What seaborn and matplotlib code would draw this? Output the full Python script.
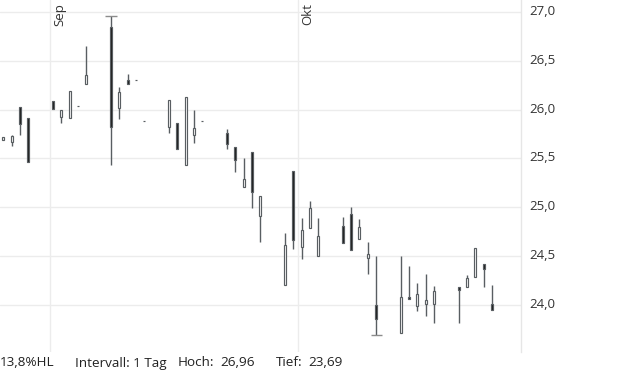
import numpy as np
import pandas as pd
import matplotlib
matplotlib.use("Agg")
import matplotlib.pyplot as plt
import matplotlib.transforms as mtrans
import seaborn as sns

dates = ["2025-08-26", "2025-08-27", "2025-08-28", "2025-08-29",
         "2025-09-01", "2025-09-02", "2025-09-03", "2025-09-04", "2025-09-05",
         "2025-09-08", "2025-09-09", "2025-09-10", "2025-09-11", "2025-09-12",
         "2025-09-15", "2025-09-16", "2025-09-17", "2025-09-18", "2025-09-19",
         "2025-09-22", "2025-09-23", "2025-09-24", "2025-09-25", "2025-09-26",
         "2025-09-29", "2025-09-30", "2025-10-01", "2025-10-02", "2025-10-03",
         "2025-10-06", "2025-10-07", "2025-10-08", "2025-10-09", "2025-10-10",
         "2025-10-13", "2025-10-14", "2025-10-15", "2025-10-16", "2025-10-17",
         "2025-10-20", "2025-10-21", "2025-10-22", "2025-10-23", "2025-10-24"]
open_ = [25.69, 25.67, 26.03, 25.91,
         26.09, 25.92, 25.91, 26.04, 26.26,
         26.85, 26.02, 26.30, 26.30, 25.88,
         25.82, 25.86, 25.43, 25.74, 25.88,
         25.76, 25.62, 25.21, 25.57, 24.91,
         24.20, 25.37, 24.59, 24.79, 24.50,
         24.81, 24.93, 24.67, 24.48, 24.00,
         23.71, 24.08, 23.99, 24.01, 24.01,
         24.18, 24.18, 24.28, 24.42, 24.01]
high = [25.72, 25.74, 26.03, 25.91,
        26.09, 26.00, 26.19, 26.04, 26.65,
        26.96, 26.23, 26.36, 26.30, 25.88,
        26.10, 25.86, 26.13, 26.00, 25.88,
        25.80, 25.62, 25.50, 25.57, 25.11,
        24.74, 25.37, 24.89, 25.06, 24.89,
        24.90, 25.00, 24.88, 24.64, 24.50,
        24.50, 24.40, 24.22, 24.32, 24.19,
        24.18, 24.30, 24.58, 24.42, 24.20]
low = [25.69, 25.63, 25.74, 25.46,
       26.01, 25.86, 25.91, 26.04, 26.26,
       25.43, 25.90, 26.26, 26.30, 25.88,
       25.76, 25.60, 25.43, 25.66, 25.88,
       25.60, 25.36, 25.21, 24.99, 24.64,
       24.20, 24.57, 24.47, 24.79, 24.50,
       24.63, 24.56, 24.67, 24.32, 23.69,
       23.71, 24.06, 23.94, 23.88, 23.81,
       23.81, 24.18, 24.28, 24.18, 23.95]
close = [25.72, 25.73, 25.85, 25.46,
         26.01, 26.00, 26.19, 26.04, 26.35,
         25.82, 26.18, 26.26, 26.30, 25.88,
         26.10, 25.60, 26.13, 25.81, 25.88,
         25.65, 25.48, 25.29, 25.16, 25.11,
         24.61, 24.66, 24.77, 24.99, 24.70,
         24.63, 24.56, 24.80, 24.52, 23.85,
         24.08, 24.06, 24.11, 24.05, 24.14,
         24.15, 24.27, 24.58, 24.37, 23.95]
y_ticks = [24.0, 24.5, 25.0, 25.5, 26.0, 26.5, 27.0]
month_starts = ["2025-09-01", "2025-10-01"]
month_labels = ["Sep", "Okt"]
footer = ["13,8%HL", "Intervall: 1 Tag", "Hoch:", "26,96", "Tief:", "23,69"]

df = pd.DataFrame({"date": pd.to_datetime(dates) + pd.Timedelta(hours=10),
                   "open": open_, "high": high, "low": low, "close": close})

sns.set_theme(style="white")
plt.rcParams["font.family"] = ["Open Sans", "DejaVu Sans"]

fig = plt.figure(figsize=(6.2, 3.72), dpi=100)
ax = fig.add_axes([0, 1 - 352 / 372, 521 / 620, 352 / 372])

grid_c = "#ececec"
wick_c = "#595e62"
dark_c = "#1a1a1a"

for t in y_ticks:
    ax.axhline(t, color=grid_c, lw=1, zorder=0)
for m in month_starts:
    ax.axvline(pd.Timestamp(m), color=grid_c, lw=1, zorder=0)

up = df["close"] >= df["open"]
ax.vlines(df["date"], df["low"], df["high"], color=wick_c, lw=1, zorder=2)
w = 0.24
ax.bar(df["date"][up], (df["close"] - df["open"])[up], bottom=df["open"][up],
       width=w, color="white", edgecolor=wick_c, linewidth=0.85, zorder=3)
ax.bar(df["date"][~up], (df["close"] - df["open"])[~up], bottom=df["open"][~up],
       width=w, color=dark_c, edgecolor=wick_c, linewidth=0.85, zorder=3)

i_hi = int(np.argmax(df["high"]))
i_lo = int(np.argmin(df["low"]))
cap = pd.Timedelta(hours=16)
ax.hlines(df["high"][i_hi], df["date"][i_hi] - cap, df["date"][i_hi] + cap,
          color="#8c8c8c", lw=1, zorder=2)
ax.hlines(df["low"][i_lo], df["date"][i_lo] - cap, df["date"][i_lo] + cap,
          color="#8c8c8c", lw=1, zorder=2)

x0 = pd.Timestamp("2025-08-26 00:20")
x1 = pd.Timestamp("2025-10-27 22:00")
ax.set_xlim(x0, x1)
ax.set_ylim(23.516, 27.123)

ax.set_yticks(y_ticks)
ax.set_yticklabels([f"{t:.1f}".replace(".", ",") for t in y_ticks])
ax.yaxis.tick_right()
ax.tick_params(axis="y", length=0, pad=6, labelsize=9.5, labelcolor="#333333")
off = mtrans.ScaledTranslation(0, 2 / 100, fig.dpi_scale_trans)
for lab in ax.get_yticklabels():
    lab.set_transform(lab.get_transform() + off)
ax.set_xticks([])
for s in ["left", "top", "bottom"]:
    ax.spines[s].set_visible(False)
ax.spines["right"].set_color("#e6e6e6")
ax.spines["right"].set_linewidth(1)

trans = mtrans.blended_transform_factory(ax.transData, ax.transAxes)
for m, lab in zip(month_starts, month_labels):
    ax.text(pd.Timestamp(m) + pd.Timedelta(hours=10), 0.992, lab, rotation=90,
            va="top", ha="left", fontsize=9.5, color="#333333", transform=trans)

fy = 1 - 363 / 372
xs = [0, 75, 178, 220, 276, 308]
for x, t in zip(xs, footer):
    fig.text(x / 620, fy, t, fontsize=9.7, color="#222222", va="center", ha="left")

fig.savefig("out.png", dpi=100)
